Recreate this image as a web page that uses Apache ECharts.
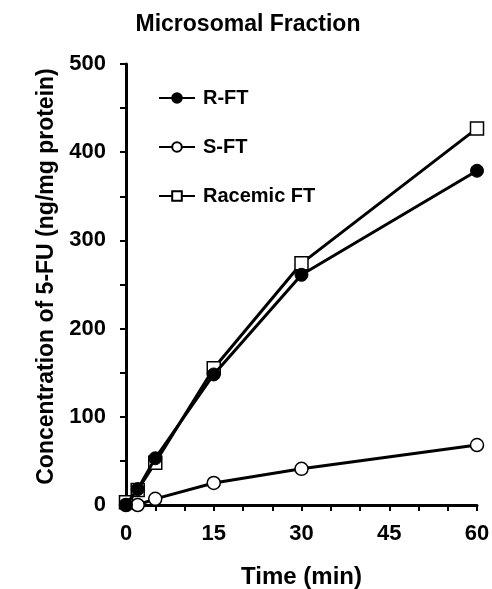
<!DOCTYPE html>
<html>
<head>
<meta charset="utf-8">
<script src="https://cdn.jsdelivr.net/npm/echarts@6/dist/echarts.min.js"></script>
<style>
html,body{margin:0;padding:0;background:#fff;}
#chart{width:492px;height:589px;}
</style>
</head>
<body>
<div id="chart"></div>
<script>
var timeMin = [0, 2, 5, 15, 30, 60];
var rFT = [0, 18, 53, 148, 261, 379];
var sFT = [0, 0, 7, 25, 41, 68];
var racemicFT = [3, 17, 48, 155, 274, 427];
var seriesNames = ['R-FT', 'S-FT', 'Racemic FT'];

function pairs(xs, ys) { return xs.map(function (x, i) { return [x, ys[i]]; }); }

var font = 'Liberation Sans, Arial, sans-serif';
var chart = echarts.init(document.getElementById('chart'));
chart.setOption({
  animation: false,
  backgroundColor: '#fff',
  title: {
    text: 'Microsomal Fraction', left: 243, top: 8, textAlign: 'center',
    textStyle: { fontFamily: font, fontWeight: 'bold', fontSize: 23, color: '#000' }
  },
  grid: { left: 126, right: 15, top: 64, bottom: 84, outerBoundsMode: 'none', containLabel: false },
  legend: {
    orient: 'vertical', left: 153, top: 83, itemGap: 29,
    itemWidth: 36, itemHeight: 12,
    data: seriesNames,
    textStyle: { fontFamily: font, fontWeight: 'bold', fontSize: 20, color: '#000', padding: [0, 0, 0, 3] }
  },
  xAxis: {
    type: 'value', min: 0, max: 60, interval: 15,
    name: 'Time (min)', nameLocation: 'middle', nameGap: 60,
    nameTextStyle: { fontFamily: font, fontWeight: 'bold', fontSize: 24, color: '#000' },
    axisLine: { lineStyle: { color: '#000', width: 3 } },
    axisTick: { show: true, length: 6, lineStyle: { color: '#000', width: 2 } },
    minorTick: { show: true, splitNumber: 3, length: 6, lineStyle: { color: '#000', width: 2 } },
    splitLine: { show: false },
    axisLabel: { margin: 18, fontFamily: font, fontWeight: 'bold', fontSize: 22, color: '#000' }
  },
  yAxis: {
    type: 'value', min: 0, max: 500, interval: 100,
    name: 'Concentration of 5-FU (ng/mg protein)', nameLocation: 'middle', nameGap: 68,
    nameTextStyle: { fontFamily: font, fontWeight: 'bold', fontSize: 23, color: '#000', padding: [0, 0, 0, 16] },
    axisLine: { show: true, lineStyle: { color: '#000', width: 3 } },
    axisTick: { show: true, length: 6, lineStyle: { color: '#000', width: 2 } },
    minorTick: { show: true, splitNumber: 2, length: 6, lineStyle: { color: '#000', width: 2 } },
    splitLine: { show: false },
    axisLabel: { margin: 20, fontFamily: font, fontWeight: 'bold', fontSize: 22, color: '#000' }
  },
  series: [
    {
      name: seriesNames[2], type: 'line', data: pairs(timeMin, racemicFT), clip: false,
      symbol: 'rect', symbolSize: 13,
      lineStyle: { color: '#000', width: 3 },
      itemStyle: { color: '#fff', borderColor: '#000', borderWidth: 1.5 }, z: 2
    },
    {
      name: seriesNames[1], type: 'line', data: pairs(timeMin, sFT), clip: false,
      symbol: 'circle', symbolSize: 13,
      lineStyle: { color: '#000', width: 3 },
      itemStyle: { color: '#fff', borderColor: '#000', borderWidth: 1.5 }, z: 3
    },
    {
      name: seriesNames[0], type: 'line', data: pairs(timeMin, rFT), clip: false,
      symbol: 'circle', symbolSize: 13,
      lineStyle: { color: '#000', width: 3 },
      itemStyle: { color: '#000', borderColor: '#000', borderWidth: 1 }, z: 4
    }
  ]
});
</script>
</body>
</html>
